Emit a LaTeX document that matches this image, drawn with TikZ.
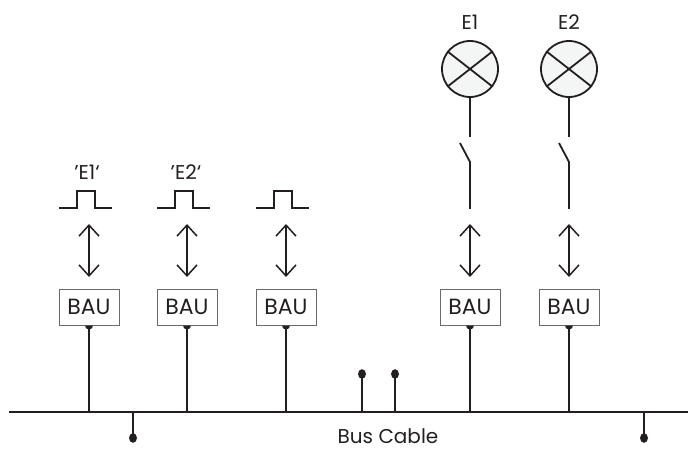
\documentclass[tikz,border=0pt]{standalone}
\usepackage{fontspec}
\setmainfont{Poppins}
\usetikzlibrary{arrows.meta}
\definecolor{ink}{HTML}{231F20}
\definecolor{boxgray}{HTML}{6A6A6A}
\definecolor{lampfill}{HTML}{F4F5F5}
\begin{document}
\begin{tikzpicture}[x=1pt,y=-1pt,
  wire/.style={draw=ink, line width=1.8pt},
  bau/.style={draw=boxgray, line width=1pt, fill=white, minimum width=60pt, minimum height=36pt, inner sep=0pt, text=ink, font=\fontsize{22}{24}\selectfont},
  lbl/.style={text=ink, inner sep=0pt, font=\fontsize{20}{22}\selectfont},
  dbl/.style={draw=ink, line width=1.5pt, {Straight Barb[length=11pt,width=20pt]}-{Straight Barb[length=11pt,width=20pt]}},
  lamp/.style={circle, draw=ink, line width=1.8pt, fill=lampfill, minimum size=56pt, inner sep=0pt},
  joint/.style={fill=ink}
]
\useasboundingbox (0,0) rectangle (688,449);

% bus
\coordinate (busL) at (9,412);
\coordinate (busR) at (688,412);
\draw[wire] (busL) -- (busR);
\node[lbl] (buslbl) at (388,436) {Bus Cable};

% BAU boxes
\foreach \n/\x in {1/89,2/187,3/286,4/470,5/569}{
  \node[bau] (b\n) at (\x,307) {BAU};
  \draw[wire] (b\n.south) -- (b\n.south |- busL);
  \fill[joint] ([xshift=-4pt]b\n.south) arc[start angle=180,end angle=0,radius=4] -- cycle;
  \coordinate (at\n) at (\x,224);
  \coordinate (ab\n) at (\x,277);
  \draw[dbl] (at\n) -- (ab\n);
}

% pulses (left side)
\foreach \n/\x in {1/86,2/184,3/283}{
  \coordinate (p\n) at (\x,208);
  \draw[wire, line join=miter] (p\n) ++(-27,0) -- ++(18,0) -- ++(0,-17) -- ++(18,0) -- ++(0,17) -- ++(17,0);
}
\node[lbl] (q1) at (87,172) {’E1‘};
\node[lbl] (q2) at (186,172) {’E2‘};

% lamps and switches
\foreach \n/\x in {1/470,2/569}{
  \node[lamp] (L\n) at (\x,69) {};
  \draw[wire] (L\n.142) -- (L\n.-38);
  \draw[wire] (L\n.38) -- (L\n.218);
  \node[lbl] (E\n) at (\x,22) {E\n};
  \coordinate (s\n a) at (\x,137);
  \coordinate (s\n b) at (\x-10,143);
  \coordinate (s\n c) at (\x,162);
  \coordinate (s\n d) at (\x,209);
  \draw[wire] (L\n.south) -- (s\n a);
  \draw[wire] (s\n b) -- (s\n c) -- (s\n d);
}

% pins
\foreach \n/\x/\y in {1/362/374,2/395/374,3/133/438,4/644/438}{
  \coordinate (pin\n) at (\x,\y);
  \draw[wire] (pin\n) -- (pin\n |- busL);
  \fill[joint] (pin\n) ellipse [x radius=4, y radius=4.8];
}
\end{tikzpicture}
\end{document}
